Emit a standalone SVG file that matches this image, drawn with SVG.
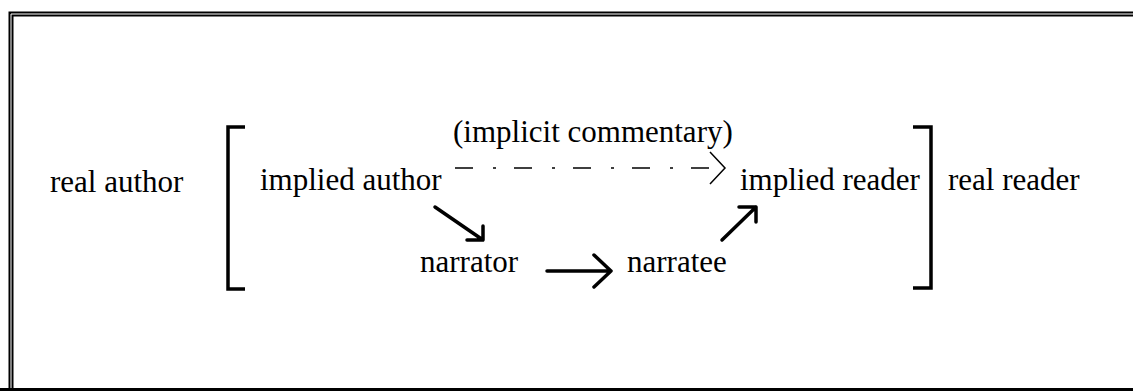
<svg xmlns="http://www.w3.org/2000/svg" width="1133" height="391" viewBox="0 0 1133 391">
<style>
text{font-family:"Liberation Serif","Times New Roman",serif;font-size:31px;fill:#000}
.br{fill:none;stroke:#000;stroke-width:3.5}
.ar{fill:none;stroke:#000;stroke-width:3.5;stroke-linecap:round;stroke-linejoin:round}
.da{fill:none;stroke:#000;stroke-width:1.5}
</style>
<rect width="1133" height="391" fill="#fff"/>
<g id="frame">
<path d="M11,391 V14 H1133" fill="none" stroke="#000" stroke-width="5"/>
<path d="M11,391 V14 H1133" fill="none" stroke="#fff" stroke-width="1"/>
<path d="M0,390 H1133" stroke="#000" stroke-width="4"/>
</g>
<g id="real-author"><text x="50" y="192">real author</text></g>
<g id="left-bracket"><path class="br" d="M245,127 H228 V289 H245"/></g>
<g id="implied-author"><text x="260" y="190">implied author</text></g>
<g id="implicit-commentary"><text x="453" y="142">(implicit  commentary)</text></g>
<g id="implied-reader"><text x="740" y="190">implied reader</text></g>
<g id="right-bracket"><path class="br" d="M913,127 H931 V288 H913"/></g>
<g id="real-reader"><text x="948" y="190">real reader</text></g>
<g id="narrator"><text x="420" y="272">narrator</text></g>
<g id="narratee"><text x="627" y="272">narratee</text></g>
<g id="connectors">
<path class="da" d="M455,168 H723" stroke-dasharray="18 20 3 18"/>
<path class="da" d="M710,152 L725,168 L710,184"/>
<path class="ar" d="M435,207 L483,240 M483,226 V240 H467"/>
<path class="ar" d="M547,271 H611 M594,255 L611,271 L594,287"/>
<path class="ar" d="M722,240 L756,207 M739,207 H756 V222"/>
</g>
</svg>
